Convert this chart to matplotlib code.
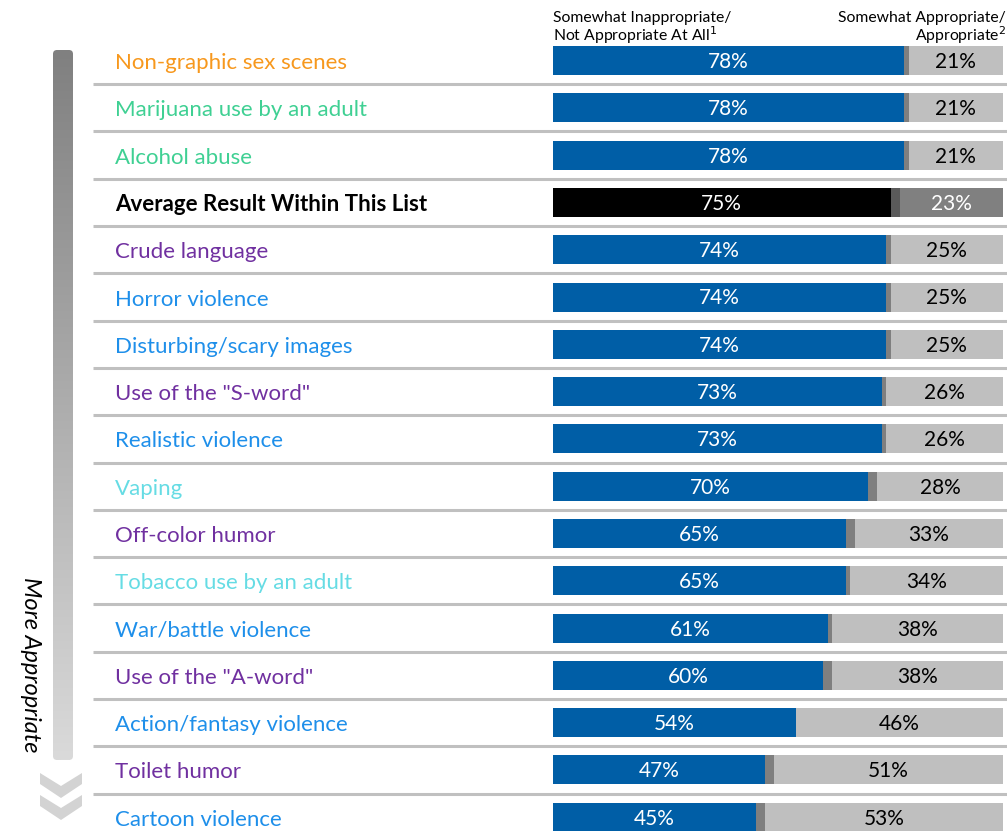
import matplotlib
matplotlib.use("Agg")
import matplotlib.pyplot as plt
import numpy as np
from matplotlib.patches import FancyBboxPatch, Polygon

plt.rcParams['font.family'] = ['Lato', 'DejaVu Sans']

labels = ["Non-graphic sex scenes", "Marijuana use by an adult", "Alcohol abuse",
          "Average Result Within This List", "Crude language", "Horror violence",
          "Disturbing/scary images", 'Use of the "S-word"', "Realistic violence",
          "Vaping", "Off-color humor", "Tobacco use by an adult", "War/battle violence",
          'Use of the "A-word"', "Action/fantasy violence", "Toilet humor", "Cartoon violence"]
inappropriate = [78, 78, 78, 75, 74, 74, 74, 73, 73, 70, 65, 65, 61, 60, 54, 47, 45]
appropriate = [21, 21, 21, 23, 25, 25, 25, 26, 26, 28, 33, 34, 38, 38, 46, 51, 53]
label_groups = ["orange", "green", "green", "avg", "purple", "blue", "blue", "purple",
                "blue", "cyan", "purple", "cyan", "blue", "purple", "blue", "purple", "blue"]

group_colors = {"orange": "#F7981D", "green": "#3FD093", "avg": "#000000",
                "purple": "#7030A0", "blue": "#1E8FEA", "cyan": "#66DCE4"}

W, H = 1007, 831
fig = plt.figure(figsize=(W / 100, H / 100), dpi=100)

# map pixel layout to data: 0% at x=553px, 100% at x=1003px; row i centred at 60.5+47.3*i px
x0_px, scale = 553, 4.5
row0_px, step = 60.5, 47.3
ax = fig.add_axes([0, 0, 1, 1])
ax.set_xlim(-x0_px / scale, (W - x0_px) / scale)
ax.set_ylim((H - row0_px) / step, -row0_px / step)
ax.axis("off")

n = len(labels)
y = np.arange(n)
inap = np.array(inappropriate)
app = np.array(appropriate)
mid = 100 - inap - app

# separator lines between rows
for i in range(n - 1):
    ax.plot([(93 - x0_px) / scale, (W - x0_px) / scale], [i + 0.5, i + 0.5],
            color="#C0C0C0", lw=2.2, solid_capstyle="butt", zorder=1)

bar_h = 29 / step
txt_dy = 1.5 / step
for i in range(n):
    avg = label_groups[i] == "avg"
    c1 = "#000000" if avg else "#005EA6"
    c2 = "#5A5A5A" if avg else "#7F7F7F"
    c3 = "#808080" if avg else "#BFBFBF"
    ax.barh(y[i], inap[i], height=bar_h, left=0, color=c1, zorder=2)
    ax.barh(y[i], mid[i], height=bar_h, left=inap[i], color=c2, zorder=2)
    ax.barh(y[i], app[i], height=bar_h, left=inap[i] + mid[i], color=c3, zorder=2)
    ax.text(inap[i] / 2, y[i] + txt_dy, f"{inap[i]}%", color="white", fontsize=15,
            ha="center", va="center", zorder=3)
    ax.text(100 - app[i] / 2, y[i] + txt_dy, f"{app[i]}%", color="white" if avg else "black",
            fontsize=15, ha="center", va="center", zorder=3)
    ax.text((115 - x0_px) / scale, y[i] + 2.5 / step, labels[i],
            color=group_colors[label_groups[i]],
            fontsize=16, fontweight="bold" if avg else "normal",
            ha="left", va="center", zorder=3)

# header
fig.text(553 / W, 1 - 18 / H, "Somewhat Inappropriate/", fontsize=11.3, ha="left", va="center")
fig.text(553 / W, 1 - 35 / H, "Not Appropriate At All$^1$", fontsize=11.3, ha="left", va="center")
fig.text(1006 / W, 1 - 18 / H, "Somewhat Appropriate/", fontsize=11.3, ha="right", va="center")
fig.text(1006 / W, 1 - 35 / H, "Appropriate$^2$", fontsize=11.3, ha="right", va="center")

# gradient arrow on the left
gax = fig.add_axes([0, 0, 1, 1], zorder=-1)
gax.set_xlim(0, W)
gax.set_ylim(H, 0)
gax.axis("off")
grad = np.linspace(0, 1, 256).reshape(-1, 1)
top = np.array([0x80, 0x80, 0x80]) / 255
bot = np.array([0xDA, 0xDA, 0xDA]) / 255
img = top + (bot - top) * grad[:, :, None]
im = gax.imshow(img, extent=[53, 73, 760, 50], aspect="auto")
clip = FancyBboxPatch((53, 50), 20, 710, boxstyle="round,pad=0,rounding_size=4",
                      transform=gax.transData, facecolor="none", edgecolor="none")
gax.add_patch(clip)
im.set_clip_path(clip)
for top_y in (773, 795):
    gax.add_patch(Polygon([(40, top_y), (61, top_y + 13), (82, top_y), (82, top_y + 11),
                           (61, top_y + 25), (40, top_y + 11)], closed=True,
                          facecolor="#D3D3D3", edgecolor="none"))
gax.text(30, 665, "More Appropriate", rotation=-90, style="italic", fontsize=17,
         ha="center", va="center")

fig.savefig("out.png", dpi=100)
